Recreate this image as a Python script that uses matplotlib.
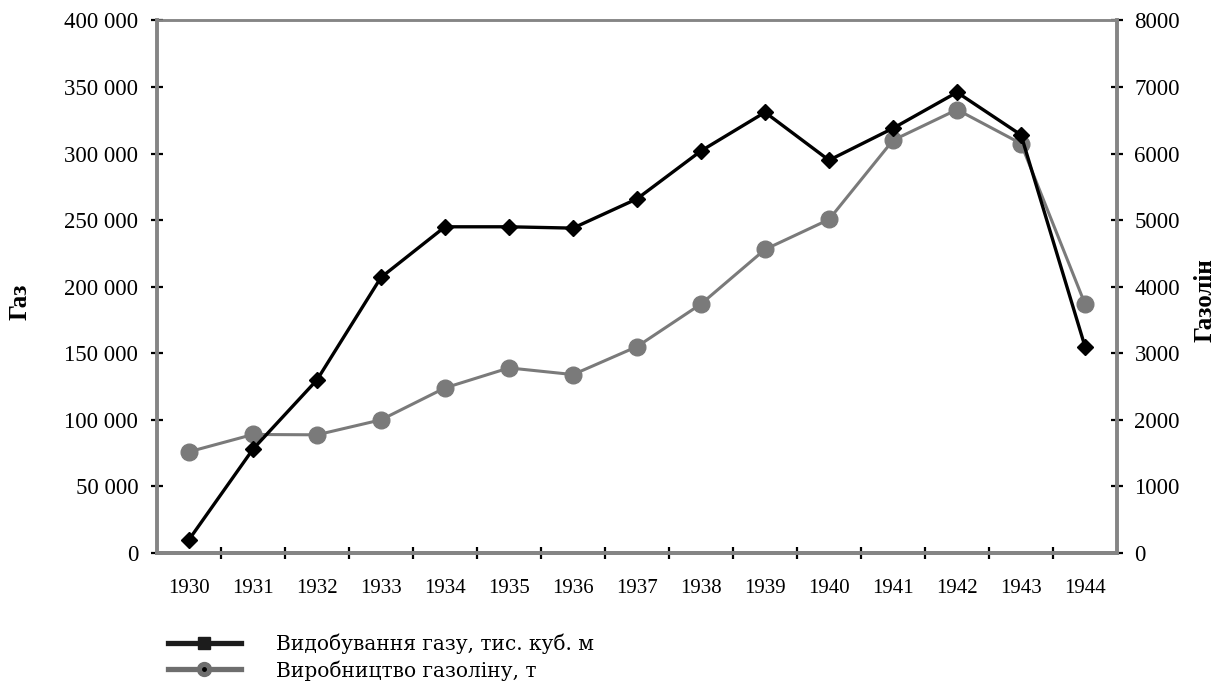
import matplotlib
matplotlib.use("Agg")
import matplotlib.pyplot as plt
from matplotlib.lines import Line2D
from matplotlib.ticker import FuncFormatter, FixedLocator

years = ["1930", "1931", "1932", "1933", "1934", "1935", "1936", "1937",
         "1938", "1939", "1940", "1941", "1942", "1943", "1944"]
gas = [10000, 78000, 130000, 207000, 245000, 245000, 244000, 266000,
       302000, 331000, 295000, 319000, 346000, 314000, 155000]
gasoline = [1520, 1780, 1775, 2000, 2480, 2780, 2680, 3100,
            3740, 4560, 5010, 6200, 6660, 6150, 3740]
left_ticks = [0, 50000, 100000, 150000, 200000, 250000, 300000, 350000, 400000]
right_ticks = [0, 1000, 2000, 3000, 4000, 5000, 6000, 7000, 8000]
labels = ["Видобування газу, тис. куб. м", "Виробництво газоліну, т"]

plt.rcParams['font.family'] = ['Liberation Serif', 'DejaVu Serif']

fig = plt.figure(figsize=(12.18, 6.81), dpi=100)
ax = fig.add_axes([0.1289, 0.188, 0.7882, 0.782])
ax2 = ax.twinx()

x = list(range(len(years)))
GRAY = "#7a7a7a"
SPINE = "#858585"

ax2.plot(x, gasoline, color=GRAY, lw=2.2, marker="o", ms=12, mfc=GRAY, mec=GRAY, zorder=2)
ax.set_zorder(ax2.get_zorder() + 1)
ax.patch.set_visible(False)
ax.plot(x, gas, color="black", lw=2.4, marker="D", ms=8.5, mfc="black", mec="black", zorder=3)

ax.set_xlim(-0.5, len(years) - 0.5)
ax.set_ylim(0, 400000)
ax2.set_ylim(0, 8000)

ax.yaxis.set_major_locator(FixedLocator(left_ticks))
ax.yaxis.set_major_formatter(FuncFormatter(lambda v, p: f"{int(v):,}".replace(",", " ")))
ax2.yaxis.set_major_locator(FixedLocator(right_ticks))

ax.set_xticks(x)
ax.set_xticklabels(years)
ax.set_xticks([i + 0.5 for i in range(len(years) - 1)], minor=True)
ax.tick_params(axis="x", which="major", length=0, pad=19, labelsize=15)
ax.tick_params(axis="x", which="minor", length=9, width=1.6, direction="inout", color="black")
ax.tick_params(axis="y", length=9, width=1.6, direction="inout", color="black", pad=9, labelsize=16.5)
ax2.tick_params(axis="y", length=9, width=1.6, direction="inout", color="black", pad=8, labelsize=16.5)

for a in (ax, ax2):
    for s in ("left", "right", "bottom"):
        a.spines[s].set_color(SPINE)
        a.spines[s].set_linewidth(2.8)
    a.spines["top"].set_color(SPINE)
    a.spines["top"].set_linewidth(1.8)
ax.spines["right"].set_visible(False)
ax2.spines["left"].set_visible(False)

fig.text(20 / 1218, 1 - 302 / 681, "Газ", rotation=90, ha="center", va="center",
         fontsize=18, fontweight="bold")
fig.text(1205 / 1218, 1 - 300 / 681, "Газолін", rotation=90, ha="center", va="center",
         fontsize=18, fontweight="bold")

h_gas = Line2D([], [], color="#1c1c1c", lw=3.8, marker="s", ms=9, mfc="#1c1c1c", mec="#1c1c1c")
h_gl = Line2D([], [], color="#6e6e6e", lw=3.8, marker="o", ms=10, mfc="#6e6e6e", mec="#6e6e6e")
h_dot = Line2D([], [], ls="none", marker="o", ms=2.5, mfc="black", mec="black")
fig.legend([h_gas, (h_gl, h_dot)], labels, loc="center left",
           bbox_to_anchor=(168 / 1218, 1 - 657 / 681),
           frameon=False, prop={"family": "DejaVu Serif", "size": 14.5},
           handlelength=3.6, handletextpad=1.75, labelspacing=0.3, borderpad=0,
           borderaxespad=0)
fig.savefig("out.png", dpi=100)
